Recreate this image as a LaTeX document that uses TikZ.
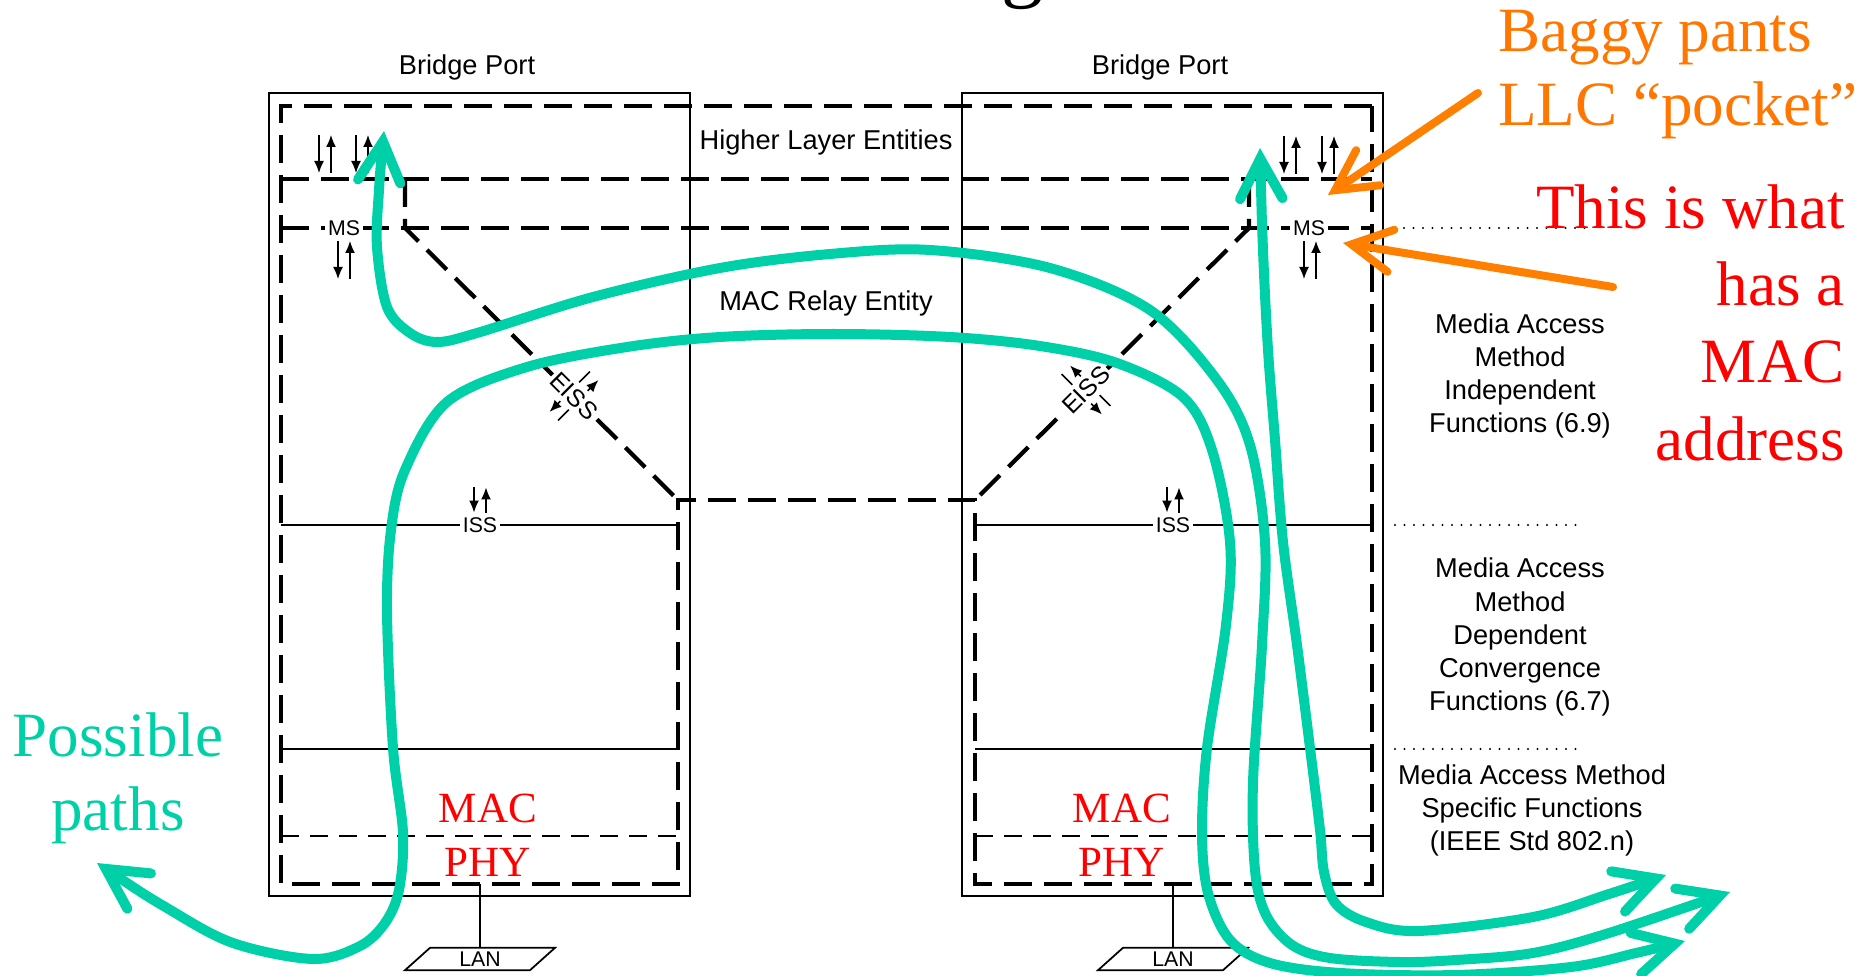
\documentclass[tikz,border=0pt]{standalone}
\usepackage{fontspec}
\setmainfont{Liberation Sans}
\newfontfamily\timesfont{Liberation Serif}
\usetikzlibrary{arrows.meta, positioning, calc}

\definecolor{pathgreen}{RGB}{0,208,168}
\definecolor{ptrorange}{RGB}{255,128,0}
\definecolor{txtorange}{RGB}{255,118,0}

\tikzset{
  portbox/.style={draw, line width=0.35mm},
  layerdash/.style={line width=0.85mm, dash pattern=on 5.6mm off 2.4mm},
  thinrule/.style={line width=0.35mm},
  thindash/.style={line width=0.55mm, dash pattern=on 3.6mm off 2.2mm},
  dotrule/.style={line width=0.45mm, line cap=round, dash pattern=on 0pt off 1.9mm},
  lbl/.style={font=\fontsize{15.5}{18.8}\selectfont, align=center, inner sep=0pt},
  tinylbl/.style={font=\fontsize{12.1}{14}\selectfont, fill=white, inner sep=0.6mm},
  eisslbl/.style={font=\fontsize{14}{16}\selectfont, fill=white, inner xsep=0.4mm, inner ysep=0.9mm},
  lanlbl/.style={font=\fontsize{12.1}{14}\selectfont, inner sep=0pt, minimum height=4.48mm},
  smallarr/.style={line width=0.3mm, -{Latex[length=2.4mm,width=2mm]}},
  dnup/.pic={\draw[smallarr] (-6,-19) -- (-6,19); \draw[smallarr] (6,19) -- (6,-19);},
  barb/.tip={Straight Barb[length=8mm, width=8.5mm, line cap=round, line join=miter]},
  greenroute/.style={pathgreen, line width=2mm, line cap=round},
  orangeptr/.style={ptrorange, line width=1.6mm, line cap=round, -barb},
  annot/.style={font=\timesfont\fontsize{35.9}{43}\selectfont, inner sep=0pt},
  layername/.style={red, font=\timesfont\fontsize{24.5}{28}\selectfont, inner sep=0pt, anchor=base},
}

\begin{document}
\begin{tikzpicture}[x=0.2mm, y=-0.2mm]
  \useasboundingbox (0,0) rectangle (1869,976);

  % cut title
  \node[font=\timesfont\fontsize{48}{48}\selectfont, anchor=base, inner sep=0pt] (titleg) at (1023,-8) {g};

  % the two ports
  \draw[portbox] (269,93) rectangle (690,896);
  \draw[portbox] (962,93) rectangle (1383,896);
  \node[lbl] (portL) at (467,67) {Bridge Port};
  \node[lbl] (portR) at (1160,67) {Bridge Port};

  % layer outlines
  \draw[layerdash] (1372,106) -- (281,106) -- (281,884) -- (678,884) -- (678,500)
    -- (975,500) -- (975,884) -- (1372,884) -- cycle;
  \draw[layerdash] (281,179) -- (1372,179);
  \draw[layerdash] (281,228) -- (1372,228);
  \draw[layerdash] (405,179) -- (405,228) -- (678,500);
  \draw[layerdash] (1249,179) -- (1249,228) -- (975,500);
  \foreach \xa/\xb in {281/678, 975/1372} {
    \draw[thinrule] (\xa,525) -- (\xb,525);
    \draw[thinrule] (\xa,749) -- (\xb,749);
    \draw[thindash] (\xa,836) -- (\xb,836);
  }

  \node[lbl] (hle) at (826,142) {Higher Layer Entities};
  \node[lbl] (mre) at (826,303) {MAC Relay Entity};

  % service points
  \pic at (325,154) {dnup};
  \pic at (362,154) {dnup};
  \pic at (1290,155) {dnup};
  \pic at (1328,155) {dnup};
  \node[tinylbl] (msL) at (344,228) {MS};
  \node[tinylbl] (msR) at (1309,228) {MS};
  \pic at (344,260) {dnup};
  \pic at (1310,260) {dnup};
  \pic[yscale=0.66] at (480,500) {dnup};
  \pic[yscale=0.66] at (1173,500) {dnup};
  \node[tinylbl] (issL) at (480,525) {ISS};
  \node[tinylbl] (issR) at (1173,525) {ISS};
  \pic[rotate=-45, yscale=1.5] at (574,396) {dnup};
  \node[eisslbl, rotate=-45] (eissL) at (574,396) {EISS};
  \pic[rotate=45, yscale=1.5] at (1086,390) {dnup};
  \node[eisslbl, rotate=45] (eissR) at (1086,390) {EISS};

  % MAC / PHY and LANs
  \node[layername] (macL) at (488,822) {MAC};
  \node[layername] (phyL) at (488,876) {PHY};
  \node[layername] (macR) at (1122,822) {MAC};
  \node[layername] (phyR) at (1122,876) {PHY};
  \coordinate (wireL) at (480,884);
  \coordinate (wireR) at (1173,884);
  \node[lanlbl] (lanL) at (480,959) {LAN};
  \node[lanlbl] (lanR) at (1173,959) {LAN};
  \draw[line width=0.5mm] (wireL) -- (lanL.north);
  \draw[line width=0.5mm] (wireR) -- (lanR.north);
  \draw[thinrule] (lanL.center) ++(-50,-11.2) -- ++(125,0) -- ++(-25,22.4) -- ++(-125,0) -- cycle;
  \draw[thinrule] (lanR.center) ++(-50,-11.2) -- ++(125,0) -- ++(-25,22.4) -- ++(-125,0) -- cycle;

  % right hand column
  \draw[dotrule] (1404,228) -- (1585,228);
  \draw[dotrule] (1395,525) -- (1585,525);
  \draw[dotrule] (1395,749) -- (1585,749);
  \node[lbl] (indep) at (1520,376) {Media Access\\Method\\Independent\\Functions (6.9)};
  \node[lbl] (dep) at (1520,637) {Media Access\\Method\\Dependent\\Convergence\\Functions (6.7)};
  \node[lbl] (spec) at (1532,810) {Media Access Method\\Specific Functions\\(IEEE Std 802.n)};

  % green paths
  \draw[greenroute, barb-barb] plot[smooth, tension=0.55] coordinates {
    (97,863) (167,908) (233,943) (313,959) (360,946) (385,923) (399,890) (403,833)
    (393,748) (387,611) (391,530) (405,470) (447,402) (527,367) (627,347) (720,337)
    (834,334) (950,337) (1040,346) (1117,363) (1183,397) (1212,450) (1230,542)
    (1226,625) (1207,748) (1202,833) (1208,893) (1230,940) (1270,963) (1341,973)
    (1456,975) (1571,967) (1636,953) (1685,941)};
  \draw[greenroute, barb-barb] plot[smooth, tension=0.55] coordinates {
    (384,131) (379,190) (377,247) (387,307) (410,333) (437,342) (477,333) (593,297)
    (720,268) (830,254) (930,250) (1050,268) (1150,310) (1217,380) (1250,445)
    (1265,542) (1262,645) (1253,782) (1255,870) (1266,915) (1292,945) (1330,958)
    (1400,962) (1456,960) (1533,953) (1609,933) (1730,892)};
  \draw[greenroute, barb-barb] plot[smooth, tension=0.55] coordinates {
    (1260,148) (1263,250) (1268,350) (1275,440) (1283,542) (1297,645) (1310,748)
    (1320,830) (1324,872) (1336,904) (1366,922) (1418,931) (1533,917) (1609,894)
    (1666,875)};

  % orange pointers
  \coordinate (llcTail) at (1478,93);
  \coordinate (llcHead) at (1328,195);
  \coordinate (msTail) at (1613,287);
  \coordinate (msHead) at (1343,243);
  \draw[orangeptr] (llcTail) -- (llcHead);
  \draw[orangeptr] (msTail) -- (msHead);

  % annotations
  \node[annot, txtorange, anchor=base west] (baggyA) at (1498,52) {Baggy pants};
  \node[annot, txtorange, anchor=base west] (baggyB) at (1498,126) {LLC “pocket”};
  \node[annot, red, anchor=base east] (addrA) at (1845,229) {This is what};
  \node[annot, red, anchor=base east] (addrB) at (1845,306) {has a};
  \node[annot, red, anchor=base east] (addrC) at (1845,383) {MAC};
  \node[annot, red, anchor=base east] (addrD) at (1845,460) {address};
  \node[annot, pathgreen, anchor=base] (possA) at (118,756) {Possible};
  \node[annot, pathgreen, anchor=base] (possB) at (118,830) {paths};
\end{tikzpicture}
\end{document}
